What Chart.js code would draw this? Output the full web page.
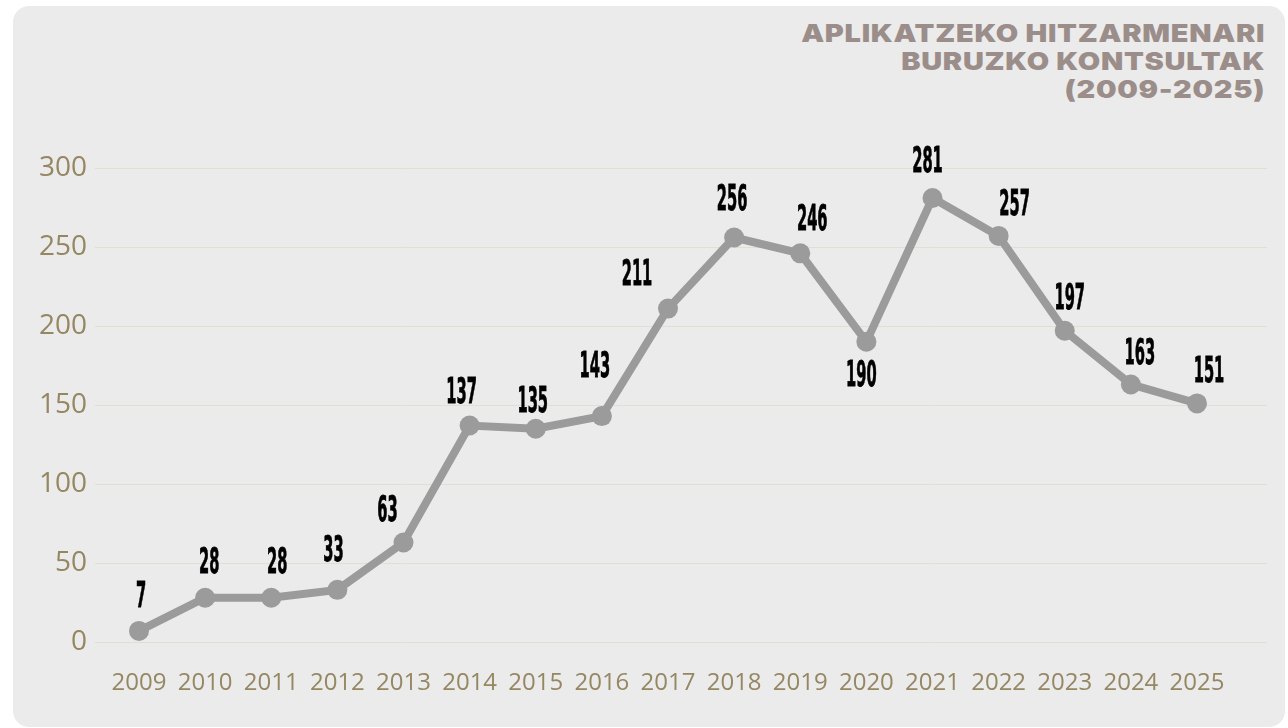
<!DOCTYPE html>
<html><head><meta charset="utf-8">
<script src="https://cdn.jsdelivr.net/npm/chart.js@4.4.1/dist/chart.umd.min.js"></script>
<style>
html,body{margin:0;padding:0;background:#fff;}
#wrap{position:relative;width:1288px;height:728px;overflow:hidden;}
#panel{position:absolute;left:13px;top:6px;width:1272px;height:721px;background:#ebebeb;border-radius:16px;}
#title{position:absolute;right:23px;top:19px;text-align:right;font-family:Inter,'DejaVu Sans',sans-serif;font-weight:900;font-size:25px;line-height:28px;color:#9b8e8a;letter-spacing:0.6px;transform-origin:right top;white-space:nowrap;}
#title span{display:block;}
canvas{position:absolute;left:0;top:0;}
</style></head>
<body>
<div id="wrap">
  <div id="panel"></div>
  <div id="title"><span>APLIKATZEKO HITZARMENARI</span><span>BURUZKO KONTSULTAK</span><span>(2009-2025)</span></div>
  <canvas id="c" width="1288" height="728"></canvas>
</div>
<script>
const years = ['2009','2010','2011','2012','2013','2014','2015','2016','2017','2018','2019','2020','2021','2022','2023','2024','2025'];
const consultations = [7,28,28,33,63,137,135,143,211,256,246,190,281,257,197,163,151];
const yMin = 0, yMax = 300, yStep = 50;
// label placement (style): horizontal shift and gap above point (negative = below)
const labelShiftX = [2,4,6,-4,-16,-8,-3,-7,-31,-2,12,-5,-5,16,5,9,12];
const labelGap = [24,25,25,29,21,23,17,39,24,28,23,-44,26,21,22,20,21];

const tickColor = '#968763';
const gridColor = '#e3ddd3';
const lineColor = '#9b9b9b';

// widen title to match design width
(function(){
  const t = document.getElementById('title');
  const w = t.querySelector('span').getBoundingClientRect().width;
  t.style.transform = 'scaleX(' + (464 / w) + ')';
})();

const valueLabels = {
  id: 'valueLabels',
  afterDatasetsDraw(chart) {
    const ctx = chart.ctx;
    const meta = chart.getDatasetMeta(0);
    ctx.save();
    ctx.font = 'bold 35px "Liberation Sans Narrow", "DejaVu Sans Condensed", "Liberation Sans", sans-serif';
    const s = 10.2 / ctx.measureText('0').width;
    ctx.fillStyle = '#000';
    ctx.strokeStyle = '#000';
    ctx.lineWidth = 0.8;
    ctx.textAlign = 'center';
    ctx.textBaseline = 'alphabetic';
    meta.data.forEach((pt, i) => {
      const x = pt.x + labelShiftX[i];
      const y = pt.y - labelGap[i];
      ctx.save();
      ctx.translate(x, y);
      ctx.scale(s, 1);
      ctx.fillText(String(consultations[i]), 0, 0);
      ctx.strokeText(String(consultations[i]), 0, 0);
      ctx.restore();
    });
    ctx.restore();
  }
};

new Chart(document.getElementById('c'), {
  type: 'line',
  data: {
    labels: years,
    datasets: [{
      data: consultations,
      borderColor: lineColor,
      backgroundColor: lineColor,
      borderWidth: 8,
      pointRadius: 10,
      pointHoverRadius: 10,
      pointBackgroundColor: lineColor,
      pointBorderWidth: 0,
      tension: 0,
      clip: false
    }]
  },
  options: {
    responsive: false,
    animation: false,
    devicePixelRatio: 1,
    layout: { padding: { top: 168, left: 39, right: 21, bottom: 0 } },
    plugins: { legend: { display: false }, tooltip: { enabled: false } },
    scales: {
      x: {
        grid: { display: false },
        border: { display: false },
        ticks: { color: tickColor, font: { family: '"Open Sans"', size: 24 }, padding: 19, maxRotation: 0, autoSkip: false },
        afterFit(s) { s.height = 86; }
      },
      y: {
        min: yMin, max: yMax,
        ticks: { stepSize: yStep, color: tickColor, font: { family: '"Open Sans"', size: 28 }, padding: 8 },
        grid: { color: gridColor, lineWidth: 1, tickLength: 44 },
        border: { display: false },
        afterFit(s) { s.width = 100; }
      },
      y2: {
        position: 'right',
        min: yMin, max: yMax,
        ticks: { stepSize: yStep, display: false },
        grid: { color: gridColor, lineWidth: 1, tickLength: 70, drawOnChartArea: false },
        border: { display: false },
        afterFit(s) { s.width = 70; }
      }
    }
  },
  plugins: [valueLabels]
});
</script>
</body></html>
